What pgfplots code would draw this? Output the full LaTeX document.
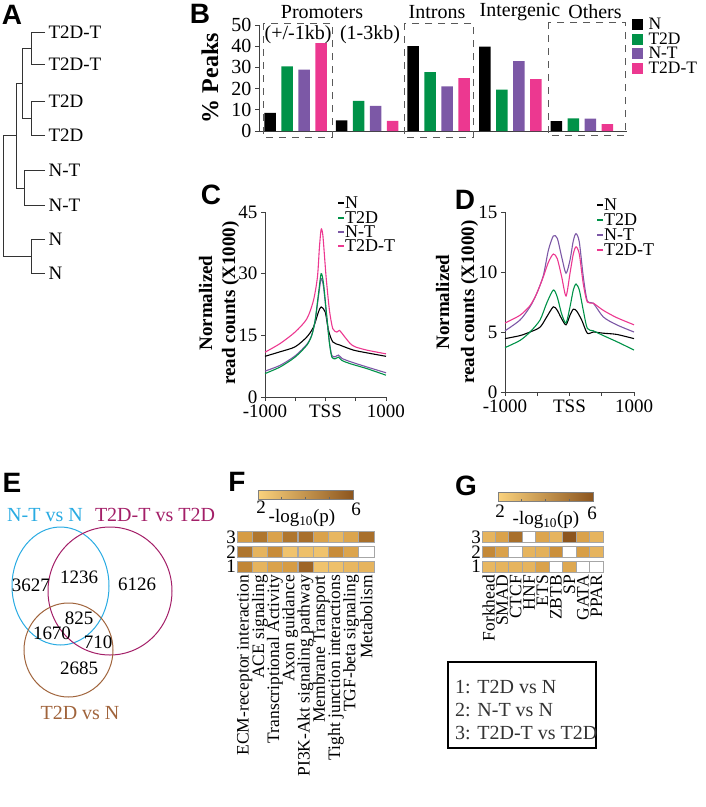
\documentclass[border=0pt]{standalone}
\usepackage{pgfplots}
\pgfplotsset{compat=1.18}
\usepackage{fontspec}
\setmainfont{Liberation Serif}
\newfontfamily\lettersf{Liberation Sans}
\newcommand{\fs}[1]{\rmfamily\fontsize{#1}{#1}\selectfont}
\newcommand{\plabel}[1]{{\lettersf\bfseries\fontsize{28}{28}\selectfont#1}}

\definecolor{cN}{RGB}{0,0,0}
\definecolor{cT}{RGB}{0,146,72}
\definecolor{cNT}{RGB}{124,88,166}
\definecolor{cTT}{RGB}{236,56,144}
\definecolor{axgray}{RGB}{64,64,64}
\definecolor{vcyan}{RGB}{41,171,226}
\definecolor{vmag}{RGB}{163,31,104}
\definecolor{vbrown}{RGB}{160,100,60}
\definecolor{hlo}{RGB}{250,210,125}
\definecolor{hmid}{RGB}{210,150,62}
\definecolor{hhi}{RGB}{140,85,30}

% heatmap cells
\pgfdeclareplotmark{cellF}{\pgfpathrectangle{\pgfpoint{-7.6pt}{-5.6pt}}{\pgfpoint{15.2pt}{11.2pt}}\pgfusepathqfillstroke}
\pgfdeclareplotmark{cellG}{\pgfpathrectangle{\pgfpoint{-6.72pt}{-5.6pt}}{\pgfpoint{13.44pt}{11.2pt}}\pgfusepathqfillstroke}

\pgfplotsset{
  panel/.style={scale only axis, anchor=south west, clip=false,
    axis lines*=left, axis line style={axgray, line width=1pt},
    tick style={axgray, line width=1pt}, tick align=outside,
    major tick length=4pt, tick label style={font=\fs{19}},
    /pgf/number format/assume math mode=true},
  curve/.style={line width=1.1pt, smooth, tension=0.45, no marks},
  heat/.style={scale only axis, anchor=south west, clip=false,
    xmin=-0.5, xmax=8.5, ymin=0.5, ymax=3.5,
    xtick={0,...,8}, ytick={1,2,3},
    axis line style={draw=none}, major tick length=0pt,
    xticklabel style={rotate=90, anchor=east, font=\fs{17.5}, inner sep=1pt},
    yticklabel style={font=\fs{19}, inner sep=1pt},
    colormap={heatmap}{rgb255=(250,210,125) rgb255=(210,150,62) rgb255=(140,85,30)},
    point meta min=2, point meta max=6,
    /pgf/number format/assume math mode=true},
}

\begin{document}
\begin{tikzpicture}
\useasboundingbox (0pt,0pt) rectangle (706pt,-807pt);

% ---------- A: dendrogram
\begin{axis}[at={(0pt,-290pt)}, anchor=south west, scale only axis,
    width=50pt, height=270pt, xmin=0, xmax=50, ymin=20, ymax=290,
    y dir=reverse, hide axis, clip=false]
  \addplot[black!80, line width=1pt] coordinates {(45,32) (31,32) (31,64) (45,64)};
  \addplot[black!80, line width=1pt] coordinates {(45,101) (31,101) (31,135) (45,135)};
  \addplot[black!80, line width=1pt] coordinates {(31,48) (22,48) (22,118) (31,118)};
  \addplot[black!80, line width=1pt] coordinates {(45,170) (24,170) (24,205) (45,205)};
  \addplot[black!80, line width=1pt] coordinates {(22,83) (16,83) (16,188) (24,188)};
  \addplot[black!80, line width=1pt] coordinates {(45,239) (31,239) (31,273) (45,273)};
  \addplot[black!80, line width=1pt] coordinates {(16,135) (3,135) (3,256) (31,256)};
  \node[anchor=west, font=\fs{19}] at (axis cs:45,32) {T2D-T};
  \node[anchor=west, font=\fs{19}] at (axis cs:45,64) {T2D-T};
  \node[anchor=west, font=\fs{19}] at (axis cs:45,101) {T2D};
  \node[anchor=west, font=\fs{19}] at (axis cs:45,135) {T2D};
  \node[anchor=west, font=\fs{19}] at (axis cs:45,170) {N-T};
  \node[anchor=west, font=\fs{19}] at (axis cs:45,205) {N-T};
  \node[anchor=west, font=\fs{19}] at (axis cs:45,239) {N};
  \node[anchor=west, font=\fs{19}] at (axis cs:45,273) {N};
\end{axis}

% ---------- B: % peaks per region
\begin{axis}[panel, at={(259pt,-131pt)}, width=368pt, height=106pt,
    xmin=-0.51, xmax=4.63, ymin=0, ymax=50, ytick={0,10,...,50}, xtick=\empty,
    ybar=5.5pt, bar width=11.5pt, tick label style={font=\fs{20}}]
  \addplot[fill=cN, draw=none] coordinates {(0,8.5) (1,5.0) (2,40.0) (3,39.8) (4,4.7)};
  \addplot[fill=cT, draw=none] coordinates {(0,30.5) (1,14.2) (2,27.8) (3,19.5) (4,6.0)};
  \addplot[fill=cNT, draw=none] coordinates {(0,29.0) (1,11.8) (2,21.0) (3,33.0) (4,5.8)};
  \addplot[fill=cTT, draw=none] coordinates {(0,41.5) (1,4.8) (2,25.0) (3,24.5) (4,3.2)};
\end{axis}

% ---------- C: TSS profile
\begin{axis}[panel, at={(265pt,-397pt)}, width=121pt, height=185pt,
    xmin=-1000, xmax=1000, ymin=0, ymax=45, ytick={0,15,30,45},
    xtick={-1000,-500,0,500,1000}, xticklabels={-1000,,TSS,,1000}]
  \addplot[curve, cN] coordinates {(-1000,9.9) (-751,11) (-503,12.2) (-309,14.6)
    (-199,17) (-116,20.7) (-72,21.9) (-5,20.7) (50,16.2) (121,13.4) (243,12.6)
    (464,11.4) (700,10.7) (1000,9.9)};
  \addplot[curve, cNT] coordinates {(-1000,6.3) (-751,7.7) (-503,10) (-309,12.8)
    (-227,15.1) (-171,18.5) (-116,24.5) (-72,28.8) (-33,26.8) (22,19.2) (66,13.2)
    (105,10.1) (160,9.8) (215,10.2) (271,9.4) (409,8.6) (685,7.3) (1000,5.9)};
  \addplot[curve, cT] coordinates {(-1000,5.7) (-751,7.3) (-503,9.7) (-309,12.6)
    (-227,15) (-171,18.7) (-116,25.1) (-72,30) (-33,27.6) (22,19.5) (66,13)
    (105,9.7) (160,9.3) (215,9.7) (271,8.9) (409,8.1) (685,6.9) (1000,5.3)};
  \addplot[curve, cTT] coordinates {(-1000,10.9) (-751,13.0) (-503,15.8) (-309,19)
    (-199,23.5) (-133,29.2) (-100,36.5) (-72,40.8) (-45,39.5) (-15,34) (11,29) (66,21) (121,16.6)
    (188,15.8) (232,16.2) (298,15) (409,13) (492,12.2) (685,11.4) (1000,10.5)};
\end{axis}

% ---------- D: enhancer profile
\begin{axis}[panel, at={(505pt,-392pt)}, width=129pt, height=180pt,
    xmin=-1000, xmax=1000, ymin=0, ymax=15, ytick={0,5,10,15},
    xtick={-1000,-500,0,500,1000}, xticklabels={-1000,,TSS,,1000}]
  \addplot[curve, cN] coordinates {(-1000,4.45) (-767,4.7) (-612,5.0) (-457,5.4)
    (-354,6.25) (-251,7.1) (-189,6.8) (-121,6.1) (-54,5.6) (8,6.4) (59,6.9)
    (111,6.75) (189,6.0) (276,4.9) (369,5.0) (525,4.9) (731,4.8) (1000,4.45)};
  \addplot[curve, cT] coordinates {(-1000,3.7) (-767,4.3) (-612,5.0) (-457,6.0)
    (-354,7.4) (-251,8.5) (-189,7.9) (-121,6.5) (-54,5.75) (8,7.1) (59,8.5)
    (101,9.0) (152,8.5) (214,6.8) (276,5.3) (369,5.1) (525,4.7) (731,4.2) (1000,3.5)};
  \addplot[curve, cNT] coordinates {(-1000,5.1) (-767,6.0) (-612,7.1) (-509,8.2)
    (-406,9.7) (-328,11.8) (-251,13.0) (-189,12.8) (-121,11.25) (-54,9.9) (8,11)
    (59,12.6) (101,13.2) (152,12.5) (214,9.6) (276,7.6) (369,7.4) (525,6.25)
    (731,5.6) (1000,5.0)};
  \addplot[curve, cTT] coordinates {(-1000,5.75) (-767,6.4) (-612,7.2) (-509,8.2)
    (-406,9.6) (-328,10.8) (-251,11.5) (-189,11.1) (-121,9.6) (-54,8.0) (8,9.9)
    (59,11.5) (101,12.1) (152,11.5) (214,9.0) (276,7.5) (369,7.4) (525,6.8)
    (731,6.2) (1000,5.6)};
\end{axis}

% ---------- F: pathway heatmap
\begin{axis}[heat, at={(237pt,-574pt)}, width=137pt, height=44.25pt,
    xticklabels={ECM-receptor interaction, ACE signaling, Transcriptional Activity,
      Axon guidance, PI3K-Akt signaling pathway, Membrane Transport,
      Tight junction interactions, TGF-beta signaling, Metabolism}]
  \addplot[scatter, only marks, mark=cellF, point meta=explicit,
    mark options={line width=0.8pt},
    scatter/use mapped color={draw=black!35, fill=mapped color}] coordinates {
    (0,3)[3.8] (1,3)[5.0] (2,3)[3.6] (3,3)[5.0] (4,3)[5.2] (5,3)[3.6] (6,3)[2.9] (7,3)[3.5] (8,3)[5.2]
    (0,2)[5.0] (1,2)[3.0] (2,2)[4.3] (3,2)[2.5] (4,2)[2.6] (5,2)[2.5] (6,2)[4.3] (7,2)[3.5]
    (0,1)[4.5] (1,1)[3.0] (2,1)[3.6] (3,1)[3.8] (4,1)[5.5] (5,1)[2.5] (6,1)[2.6] (7,1)[2.9] (8,1)[3.0]};
  \addplot[only marks, mark=cellF, mark options={draw=black!35, fill=white, line width=0.8pt}]
    coordinates {(8,2)};
\end{axis}

% ---------- G: motif heatmap
\begin{axis}[heat, at={(482pt,-574pt)}, width=121pt, height=44.25pt,
    xticklabels={Forkhead, SMAD, CTCF, HNF, ETS, ZBTB, SP, GATA, PPAR}]
  \addplot[scatter, only marks, mark=cellG, point meta=explicit,
    mark options={line width=0.8pt},
    scatter/use mapped color={draw=black!35, fill=mapped color}] coordinates {
    (0,3)[3.0] (1,3)[3.6] (2,3)[5.2] (4,3)[3.5] (5,3)[3.0] (6,3)[6.0] (7,3)[3.6] (8,3)[3.0]
    (0,2)[4.4] (1,2)[3.6] (3,2)[3.0] (4,2)[3.1] (5,2)[4.2] (7,2)[3.7] (8,2)[3.0]
    (0,1)[2.9] (1,1)[3.0] (2,1)[3.0] (3,1)[3.0] (4,1)[3.6] (6,1)[3.4]};
  \addplot[only marks, mark=cellG, mark options={draw=black!35, fill=white, line width=0.8pt}]
    coordinates {(3,3) (2,2) (6,2) (5,1) (7,1) (8,1)};
\end{axis}

\begin{scope}[x=1pt, y=-1pt]
  % panel letters
  \node at (12,15) {\plabel{A}};
  \node at (200,14) {\plabel{B}};
  \node at (211,195) {\plabel{C}};
  \node at (465,200) {\plabel{D}};
  \node at (12,483) {\plabel{E}};
  \node at (237,482) {\plabel{F}};
  \node at (466,486) {\plabel{G}};

  % B decorations
  \node[rotate=90, font=\fs{24}\bfseries] at (210,78) {\% Peaks};
  \begin{scope}[font=\fs{20}]
    \node at (322,12) {Promoters};
    \node at (437,12) {Introns};
    \node at (520,12) {Intergenic};
    \node at (595,12) {Others};
    \node at (298,35) {(+/-1kb)};
    \node at (370,35) {(1-3kb)};
  \end{scope}
  \draw[black!65, line width=1pt, dash pattern=on 7pt off 6pt] (263,23) rectangle (332,137);
  \draw[black!65, line width=1pt, dash pattern=on 7pt off 6pt] (404,23) rectangle (473,137);
  \draw[black!65, line width=1pt, dash pattern=on 7pt off 6pt] (548,22) rectangle (625,135);
  \fill[cN] (632,19) rectangle (643,30);
  \fill[cT] (632,34) rectangle (643,45);
  \fill[cNT] (632,48) rectangle (643,59);
  \fill[cTT] (632,63) rectangle (643,74);
  \begin{scope}[font=\fs{17.5}]
    \node[anchor=west] at (645,24) {N};
    \node[anchor=west] at (645,39) {T2D};
    \node[anchor=west] at (645,53) {N-T};
    \node[anchor=west] at (645,68) {T2D-T};
  \end{scope}

  % C and D axis titles and keys
  \node[rotate=90, align=center, font={\rmfamily\bfseries\fontsize{19}{23}\selectfont}]
    at (219,303) {Normalized\\ read counts (X1000)};
  \node[rotate=90, align=center, font={\rmfamily\bfseries\fontsize{19}{25}\selectfont}]
    at (457,302) {Normalized\\ read counts (X1000)};
  \begin{scope}[font=\fs{18}, line width=1.1pt]
    \draw[cN] (338,203) -- (344,203);  \node[anchor=west, inner sep=0.5pt] at (344,203) {N};
    \draw[cT] (338,218) -- (344,218);  \node[anchor=west, inner sep=0.5pt] at (344,218) {T2D};
    \draw[cNT] (338,232) -- (344,232); \node[anchor=west, inner sep=0.5pt] at (344,232) {N-T};
    \draw[cTT] (338,246) -- (344,246); \node[anchor=west, inner sep=0.5pt] at (344,246) {T2D-T};
    \draw[cN] (597,205) -- (603,205);  \node[anchor=west, inner sep=0.5pt] at (603,205) {N};
    \draw[cT] (597,220) -- (603,220);  \node[anchor=west, inner sep=0.5pt] at (603,220) {T2D};
    \draw[cNT] (597,235) -- (603,235); \node[anchor=west, inner sep=0.5pt] at (603,235) {N-T};
    \draw[cTT] (597,250) -- (603,250); \node[anchor=west, inner sep=0.5pt] at (603,250) {T2D-T};
  \end{scope}

  % E: Venn diagram
  \draw[vcyan, line width=1pt] (60.5,586) ellipse [x radius=48.5, y radius=59];
  \draw[vmag, line width=1pt] (110,591) ellipse [x radius=62, y radius=64];
  \draw[vbrown, line width=1pt] (68.5,650) ellipse [x radius=44.5, y radius=47];
  \node[vcyan, font=\fs{20}] at (45,515) {N-T vs N};
  \node[vmag, font=\fs{20}] at (155,515) {T2D-T vs T2D};
  \node[vbrown, font=\fs{20}] at (80,713) {T2D vs N};
  \begin{scope}[font=\fs{19}]
    \node at (31,585) {3627};
    \node at (79,577) {1236};
    \node at (137,584) {6126};
    \node at (79,618) {825};
    \node at (52,633) {1670};
    \node at (98,642) {710};
    \node at (79,668) {2685};
  \end{scope}

  % F colour bar
  \shade[left color=hlo, middle color=hmid, right color=hhi] (258,490) rectangle (353,499);
  \draw[black!50, line width=0.5pt] (258,490) rectangle (353,499);
  \foreach \k in {1,2,3} \draw[black!60, line width=0.6pt] ({258+95*\k/4},499) -- ++(0,-2.5);
  \node[font=\fs{19}] at (261,507.5) {2};
  \node[font=\fs{19}] at (356,509) {6};
  \node[font=\fs{19}] at (302,518) {-log\textsubscript{10}(p)};

  % G colour bar
  \shade[left color=hlo, middle color=hmid, right color=hhi] (498,492) rectangle (593,501);
  \draw[black!50, line width=0.5pt] (498,492) rectangle (593,501);
  \foreach \k in {1,2,3} \draw[black!60, line width=0.6pt] ({498+95*\k/4},501) -- ++(0,-2.5);
  \node[font=\fs{19}] at (500,511) {2};
  \node[font=\fs{19}] at (592,513) {6};
  \node[font=\fs{19}] at (546,520) {-log\textsubscript{10}(p)};

  % comparison key
  \draw[line width=2pt] (448,662) rectangle (596,748);
  \begin{scope}[font=\fs{20}, text=black!80]
    \node[anchor=west, inner sep=0pt] at (455,687) {1: T2D vs N};
    \node[anchor=west, inner sep=0pt] at (455,710) {2: N-T vs N};
    \node[anchor=west, inner sep=0pt] at (455,733) {3: T2D-T vs T2D};
  \end{scope}
\end{scope}
\end{tikzpicture}
\end{document}
